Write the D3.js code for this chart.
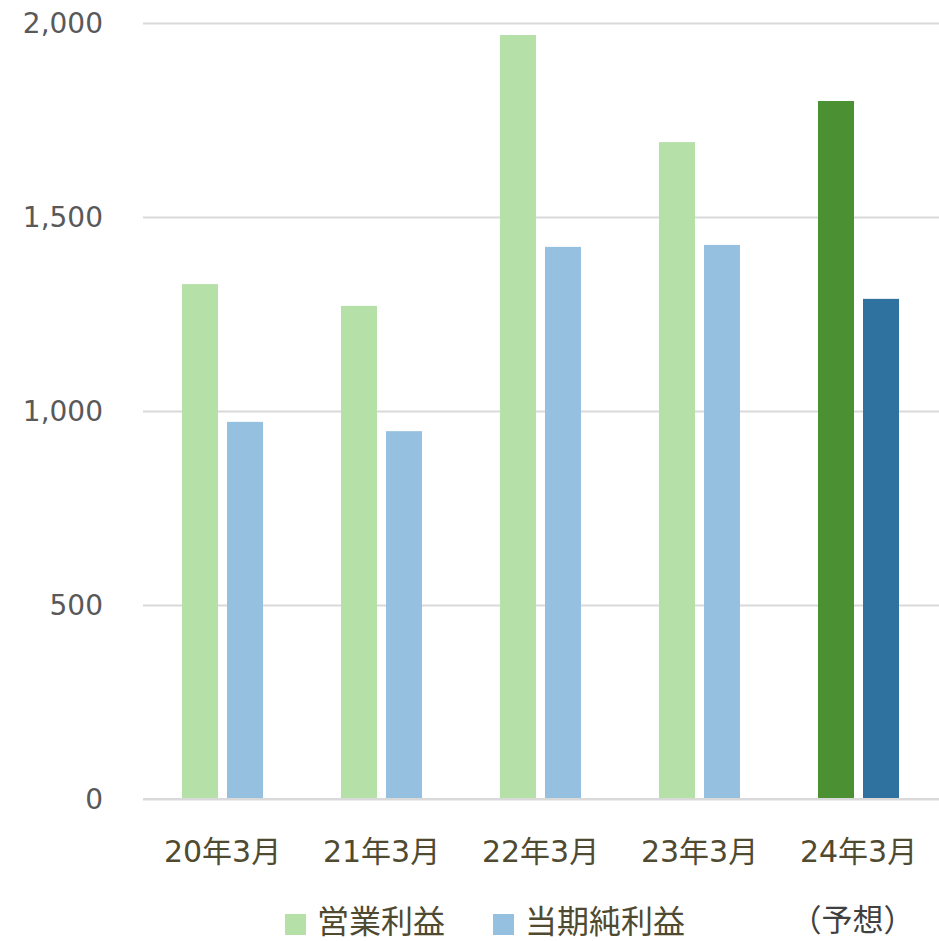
<!DOCTYPE html>
<html>
<head>
<meta charset="utf-8">
<script src="https://cdn.jsdelivr.net/npm/d3@7"></script>
<style>
  html, body { margin: 0; padding: 0; background: #fff; }
  svg { display: block; }
</style>
</head>
<body>
<svg id="chart" width="939" height="941"></svg>
<script>
const categories = ["20年3月", "21年3月", "22年3月", "23年3月", "24年3月"];
const categoryNotes = ["", "", "", "", "（予想）"];
const seriesNames = ["営業利益", "当期純利益"];
const operatingProfit = [1327, 1271, 1969, 1693, 1799];
const netProfit = [972, 948, 1423, 1428, 1289];
const yTicks = [0, 500, 1000, 1500, 2000];

const baseColors = ["#b5e0a8", "#95c0df"];
const forecastColors = ["#4b9134", "#2f72a0"];
const forecastIndex = 4;

const svg = d3.select("#chart");
const fontStack = "'DejaVu Sans', 'Noto Sans CJK JP', sans-serif";

const x0 = d3.scaleBand().domain(categories).range([143, 938]).padding(0);
const groupWidth = 81;
const x1 = d3.scaleBand().domain(seriesNames).range([0, groupWidth]).paddingInner(0.2).paddingOuter(0);
const y = d3.scaleLinear().domain([0, 2000]).range([799, 23]);

// gridlines
const yAxis = d3.axisLeft(y).tickValues(yTicks).tickSize(-(938 - 143 + 1)).tickFormat(d3.format(","));
const gAxis = svg.append("g").attr("transform", "translate(143,0)").call(yAxis);
gAxis.select(".domain").remove();
gAxis.selectAll(".tick line").attr("stroke", "#d9d9d9").attr("stroke-width", 2);
gAxis.selectAll(".tick text")
  .attr("x", -40)
  .attr("dy", "0.35em")
  .attr("fill", "#595959")
  .style("font-family", fontStack)
  .style("font-size", "28px");

// bars
const data = categories.map((c, i) => ({ cat: c, i, values: [operatingProfit[i], netProfit[i]] }));
const groups = svg.append("g").selectAll("g").data(data).join("g")
  .attr("transform", d => `translate(${x0(d.cat) + (x0.bandwidth() - groupWidth) / 2},0)`);
groups.selectAll("rect").data(d => d.values.map((v, k) => ({ v, k, i: d.i }))).join("rect")
  .attr("x", d => x1(seriesNames[d.k]))
  .attr("width", x1.bandwidth())
  .attr("y", d => y(d.v))
  .attr("height", d => y(0) - y(d.v))
  .attr("fill", d => d.i === forecastIndex ? forecastColors[d.k] : baseColors[d.k]);

// baseline
svg.append("line").attr("x1", 143).attr("x2", 939).attr("y1", y(0)).attr("y2", y(0))
  .attr("stroke", "#d9d9d9").attr("stroke-width", 2);

// category labels
const xAxis = d3.axisBottom(x0).tickSize(0).tickPadding(0);
const gX = svg.append("g").call(xAxis);
gX.select(".domain").remove();
gX.selectAll(".tick text")
  .attr("y", 862)
  .attr("dy", 0)
  .attr("fill", "#4f4a30")
  .style("font-family", fontStack)
  .style("font-size", "30px");

svg.append("g").selectAll("text").data(categories.filter((c, i) => categoryNotes[i])).join("text")
  .attr("x", d => x0(d) + x0.bandwidth() / 2 - 6)
  .attr("y", 931)
  .attr("text-anchor", "middle")
  .attr("fill", "#404040")
  .style("font-family", fontStack)
  .style("font-size", "31px")
  .text(d => categoryNotes[categories.indexOf(d)]);

// legend
const legendX = [285, 493];
const legend = svg.append("g").selectAll("g").data(seriesNames).join("g")
  .attr("transform", (d, i) => `translate(${legendX[i]},914)`);
legend.append("rect").attr("width", 21).attr("height", 21).attr("fill", (d, i) => baseColors[i]);
legend.append("text")
  .attr("x", 32).attr("y", 19)
  .attr("fill", "#4f4a30")
  .style("font-family", fontStack)
  .style("font-size", "32px")
  .text(d => d);
</script>
</body>
</html>
